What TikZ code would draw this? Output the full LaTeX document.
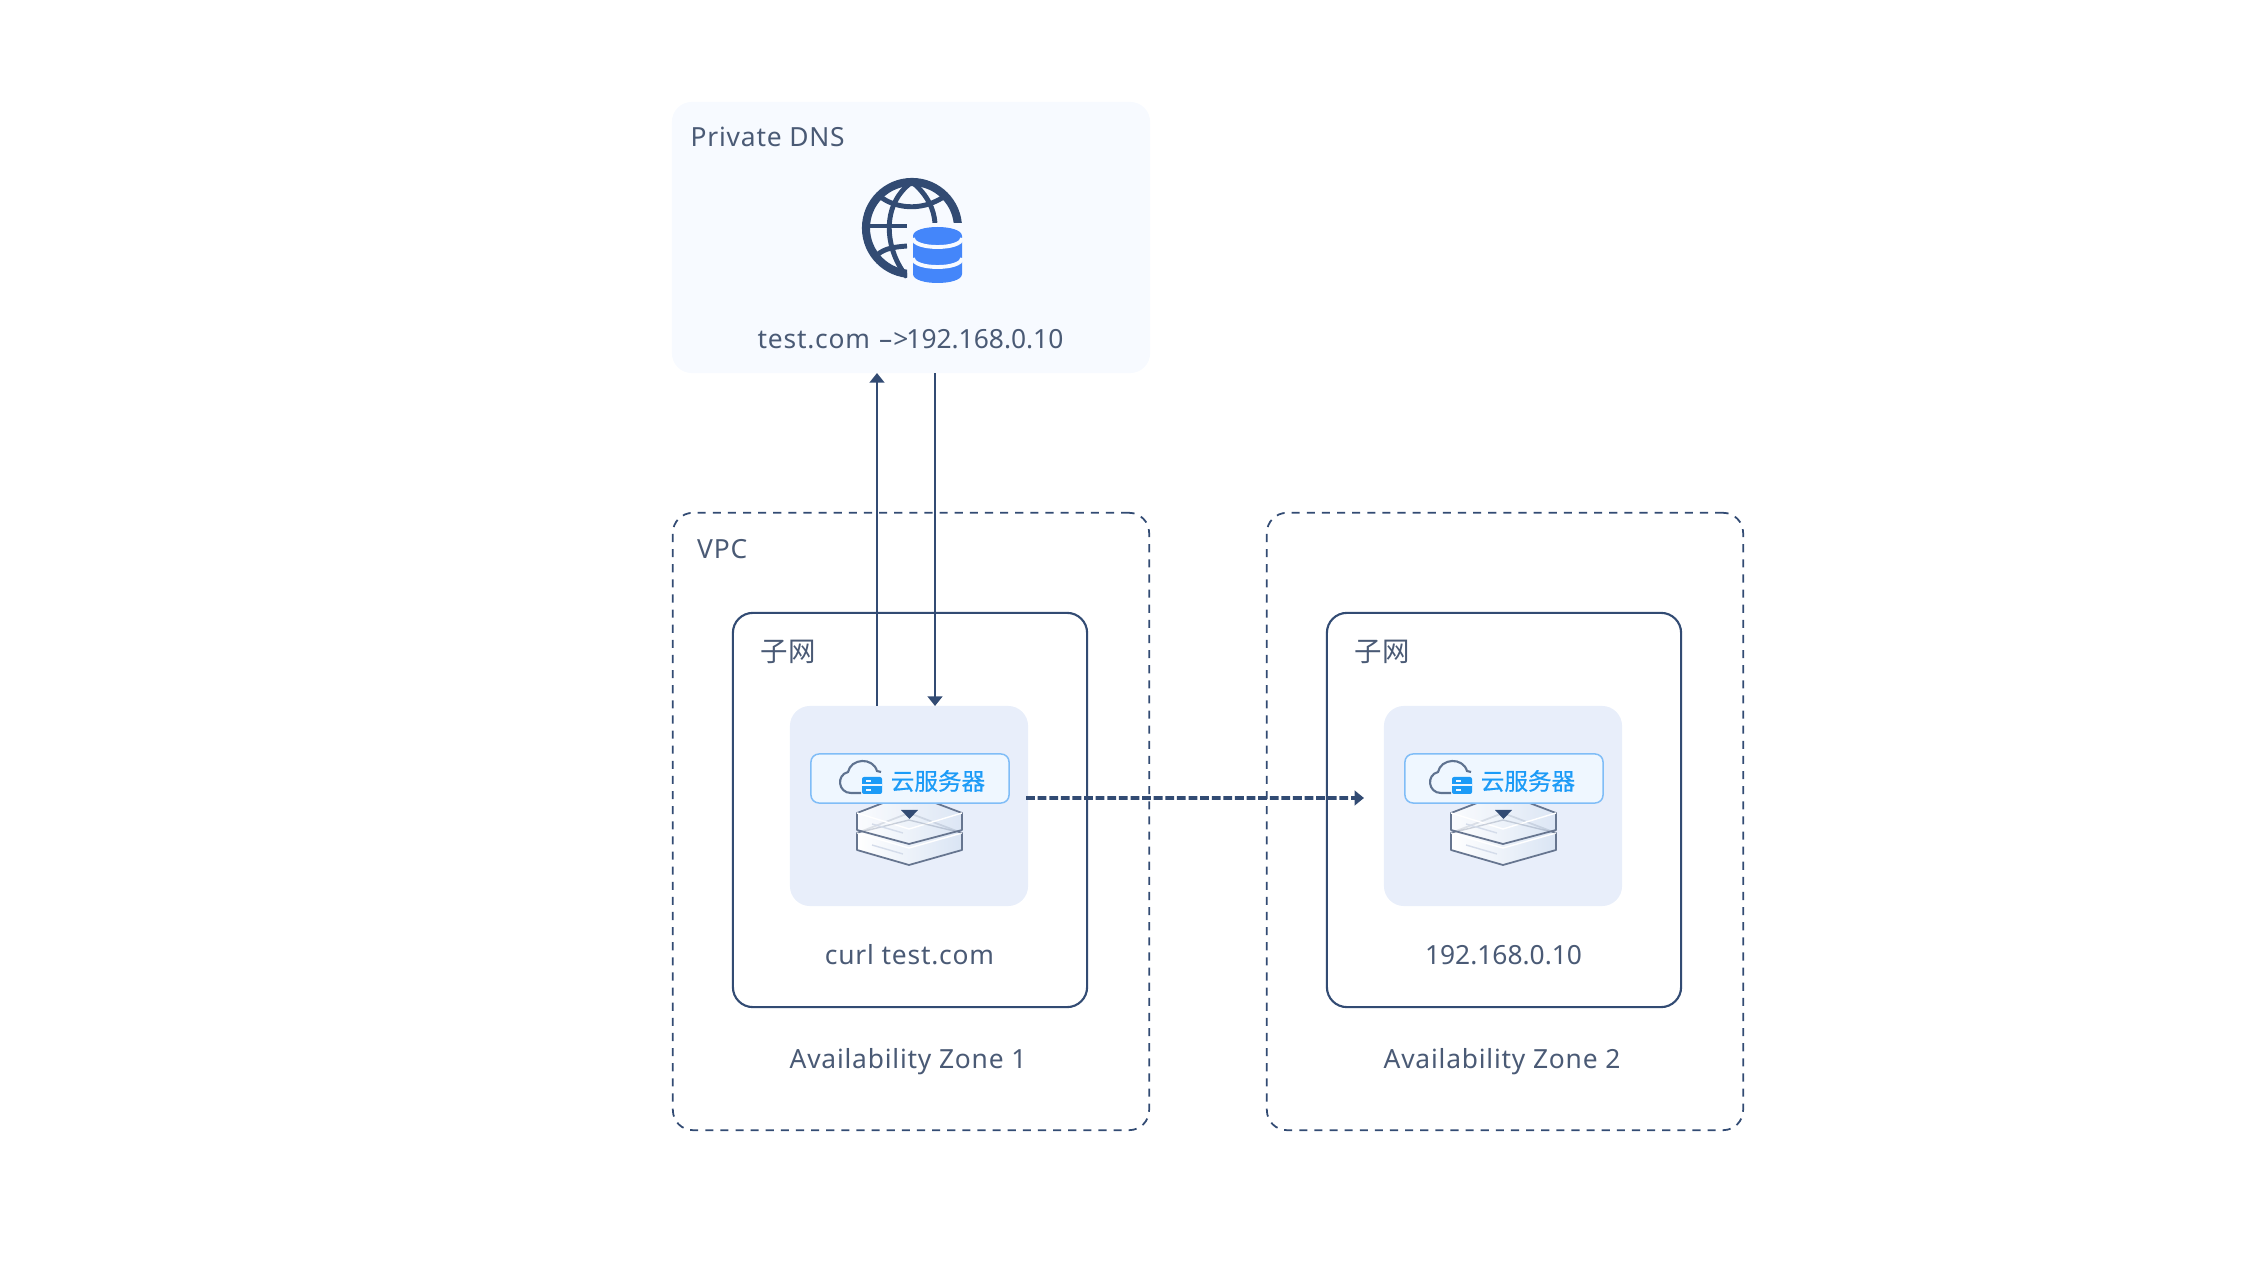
\documentclass[tikz,border=0pt]{standalone}
\usepackage{fontspec}
\setmainfont{Noto Sans}[LetterSpace=3]
\newfontfamily\numfont{Noto Sans}
\newfontfamily\cjk{Noto Sans CJK SC}
\newfontfamily\cjkbadge{Noto Sans CJK SC}[FakeBold=0.6]
\usetikzlibrary{arrows.meta}
\definecolor{linecol}{HTML}{324B73}
\definecolor{textcol}{HTML}{4A5A75}
\definecolor{dnsfill}{HTML}{F7FAFF}
\definecolor{srvfill}{HTML}{E8EEFA}
\definecolor{badgefill}{HTML}{EFF7FF}
\definecolor{badgeline}{HTML}{80BDF7}
\definecolor{badgetext}{HTML}{1C9BF7}
\definecolor{dbblue}{HTML}{4486FA}
\definecolor{stackline}{HTML}{66758F}
\definecolor{stackshade}{HTML}{DAE5F4}
\definecolor{cloudline}{HTML}{5F7390}
\begin{document}
\begin{tikzpicture}[x=0.01cm, y=-0.01cm,
    panel/.style={rectangle, inner sep=0, outer sep=0, rounded corners=0.2cm},
    dnsbox/.style={panel, fill=dnsfill, minimum width=4.78cm, minimum height=2.71cm},
    zonebox/.style={panel, draw=linecol, line width=0.5pt, dash pattern=on 2.3pt off 2pt,
                    minimum width=4.76cm, minimum height=6.17cm},
    subnetbox/.style={panel, draw=linecol, line width=0.6pt, minimum width=3.54cm, minimum height=3.94cm},
    srvbox/.style={panel, fill=srvfill, minimum width=2.38cm, minimum height=2.00cm},
    badge/.style={panel, rounded corners=0.08cm, fill=badgefill, draw=badgeline, line width=0.43pt,
                  minimum width=1.98cm, minimum height=0.49cm},
    lbl/.style={inner sep=0, text=textcol, font=\fontsize{7.5}{9}\selectfont},
    flow/.style={draw=linecol, line width=0.45pt, -{Triangle[length=2.7pt,width=4.2pt]}},
    layer/.style={draw=stackline, line width=0.5pt, line join=round, left color=white, right color=stackshade}]
    \useasboundingbox (0,0) rectangle (2262,1264);

    \node[dnsbox] (dns) at (911,237.5) {};
    \node[lbl, anchor=west] (dnstitle) at (690,137) {Private DNS};
    \node[lbl] (record) at (910.5,339) {test.com\hspace{2.6pt}--\hspace{0.3pt}>\hspace{-0.6pt}{\numfont 192.168.0.10}};

    % globe
    \begin{scope}
        \clip (850,170) -- (975,170) -- (975,223) -- (907,223) -- (907,290) -- (850,290) -- cycle;
        \draw[linecol, line width=2.3pt] (912,228) circle [radius=0.46cm];
        \draw[linecol, line width=1.4pt] (912,182) .. controls (880,205) and (885,250) .. (907,277);
        \draw[linecol, line width=1.4pt] (912,182) .. controls (928,195) and (934,210) .. (935,223);
        \draw[linecol, line width=1.4pt] (882,198) .. controls (900,210) and (925,210) .. (945,196);
        \draw[linecol, line width=1.4pt] (877,255) .. controls (885,248) and (895,247) .. (907,246);
        \draw[linecol, line width=1.4pt] (868,226) -- (907,226);
    \end{scope}
    % database
    \fill[dbblue] (913,236) -- (913,274) .. controls (913,286) and (962,286) .. (962,274)
        -- (962,236) .. controls (962,224) and (913,224) .. (913,236) -- cycle;
    \draw[dnsfill, line width=1.1pt] (913,238) .. controls (913,250) and (962,250) .. (962,238);
    \draw[dnsfill, line width=1.1pt] (913,258) .. controls (913,270) and (962,270) .. (962,258);

    \foreach \n/\dx/\cdx/\host in {1/0/0/curl test.com, 2/594/590/{\numfont 192.168.0.10}} {
        \begin{scope}[shift={(\dx,0)}]
            \node[zonebox] (zone\n) at (911,821.5) {};
            \node[subnetbox] (subnet\n) at (910,810) {};
            \node[srvbox] (server\n) at (909,806) {};
            \node[lbl, anchor=west, font=\cjk\fontsize{7.8}{9}\selectfont] (subnetlabel\n) at (760,652) {子网};
            \node[lbl] (host\n) at (909.5,955) {\host};
            \node[lbl] (zonelabel\n) at (908,1061.5) {Availability Zone \n};

            % stacked disks
            \draw[layer] (857,833) -- (909,813) -- (962,833) -- (962,850) -- (909,865) -- (857,850) -- cycle;
            \draw[white, line width=0.4pt] (857,833) -- (909,848) -- (962,833);
            \draw[layer, fill opacity=0.8] (857,813) -- (909,793) -- (962,813) -- (962,830) -- (909,844) -- (857,830) -- cycle;
            \draw[white, line width=0.4pt] (857,813) -- (909,829) -- (962,813);
            \draw[stackline, opacity=0.3, line width=0.4pt] (857,833) -- (909,820) -- (962,833);
            \draw[srvfill!85!stackline, line width=0.4pt] (872,824) -- (903,833);
            \draw[srvfill!85!stackline, line width=0.4pt] (872,845) -- (903,854);

            \node[badge] (badge\n) at (910,778.5) {};
            \fill[linecol] (901,810) -- (918,810) -- (909.5,819) -- cycle;
        \end{scope}
        \begin{scope}[shift={(\cdx,0)}]
            \node[inner sep=0, text=badgetext, font=\cjkbadge\fontsize{6.7}{8}\selectfont] (badgetext\n) at (938,781) {云服务器};
            % cloud and small server
            \draw[cloudline, line width=0.6pt] (861,793) -- (851,793) .. controls (838,793) and (836,775) .. (848,772)
                .. controls (851,758) and (873,757) .. (877,771) -- (881,772);
            \fill[badgetext, rounded corners=0.02cm] (862,777) rectangle (882,794);
            \draw[badgefill, line width=0.3pt] (862,785) -- (882,785);
            \draw[badgefill, line width=0.5pt] (866,781) -- (871,781) (866,790) -- (871,790);
        \end{scope}
    }

    \node[lbl, anchor=west] (vpclabel) at (696.5,549) {VPC};

    \draw[flow] ([xshift=-0.32cm]server1.north) -- ([xshift=-0.32cm]server1.north |- dns.south);
    \draw[flow] ([xshift=0.26cm]server1.north |- dns.south) -- ([xshift=0.26cm]server1.north);
    \coordinate (zone2in) at (1364,798);
    \draw[draw=linecol, line width=1pt, dash pattern=on 2.5pt off 0.8pt,
          -{Triangle[length=2.7pt,width=4.2pt]}] ([xshift=-0.02cm,yshift=0.08cm]server1.east) -- (zone2in);
\end{tikzpicture}
\end{document}
